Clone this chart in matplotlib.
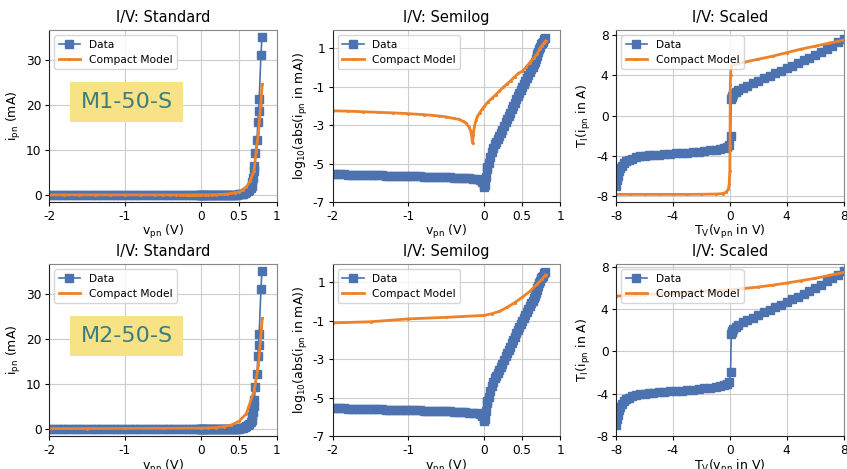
import numpy as np
import matplotlib
matplotlib.use("Agg")
import matplotlib.pyplot as plt

# =============================
# DATA
# =============================
# measured diode: v_pn (V) and log10(|i_pn| in mA)
v_data = [-2.00, -1.95, -1.90, -1.85, -1.80, -1.75, -1.70, -1.65, -1.60, -1.55,
          -1.50, -1.45, -1.40, -1.35, -1.30, -1.25, -1.20, -1.15, -1.10, -1.05,
          -1.00, -0.95, -0.90, -0.85, -0.80, -0.75, -0.70, -0.65, -0.60, -0.55,
          -0.50, -0.45, -0.40, -0.35, -0.30, -0.25, -0.20, -0.15, -0.10, -0.06,
          -0.03, -0.01, 0.00, 0.01, 0.02, 0.03, 0.04, 0.06, 0.08, 0.10,
          0.12, 0.14, 0.16, 0.18, 0.20, 0.22, 0.24, 0.26, 0.28, 0.30,
          0.32, 0.34, 0.36, 0.38, 0.40, 0.42, 0.44, 0.46, 0.48, 0.50,
          0.52, 0.54, 0.56, 0.58, 0.60, 0.62, 0.64, 0.66, 0.67, 0.68,
          0.69, 0.700, 0.708, 0.717, 0.740, 0.753, 0.761, 0.770, 0.793, 0.806]
logi_data = [-5.55, -5.55, -5.56, -5.56, -5.57, -5.57, -5.58, -5.58, -5.59, -5.59,
             -5.60, -5.60, -5.61, -5.61, -5.62, -5.62, -5.63, -5.63, -5.64, -5.64,
             -5.65, -5.65, -5.66, -5.66, -5.67, -5.67, -5.68, -5.68, -5.69, -5.69,
             -5.70, -5.71, -5.72, -5.73, -5.74, -5.75, -5.77, -5.79, -5.82, -5.87,
             -5.95, -6.10, -6.20, -6.10, -5.70, -5.30, -5.15, -4.95, -4.65, -4.40,
             -4.20, -4.00, -3.85, -3.70, -3.55, -3.40, -3.25, -3.05, -2.85, -2.70,
             -2.52, -2.35, -2.18, -2.00, -1.83, -1.65, -1.48, -1.30, -1.15, -1.00,
             -0.84, -0.68, -0.52, -0.37, -0.22, -0.10, 0.05, 0.20, 0.28, 0.45,
             0.58, 0.716, 0.813, 0.968, 1.086, 1.212, 1.270, 1.326, 1.491, 1.544]

# compact model, device M1
v_m1 = [-2.00, -1.80, -1.60, -1.40, -1.20, -1.00, -0.80, -0.60, -0.50, -0.40,
        -0.33, -0.28, -0.24, -0.20, -0.18, -0.165, -0.155, -0.145, -0.13, -0.11,
        -0.09, -0.06, -0.03, 0.00, 0.05, 0.10, 0.15, 0.20, 0.25, 0.30,
        0.35, 0.40, 0.45, 0.50, 0.55, 0.60, 0.65, 0.70, 0.73, 0.76,
        0.79, 0.81]
logi_m1 = [-2.25, -2.27, -2.30, -2.33, -2.36, -2.40, -2.45, -2.52, -2.57, -2.65,
           -2.70, -2.80, -2.89, -3.10, -3.30, -3.60, -3.93, -3.50, -3.06, -2.75,
           -2.54, -2.35, -2.18, -2.02, -1.78, -1.60, -1.42, -1.22, -1.03, -0.85,
           -0.68, -0.48, -0.30, -0.20, 0.02, 0.25, 0.48, 0.72, 0.98, 1.14,
           1.30, 1.39]

# compact model, device M2
v_m2 = [-2.00, -1.50, -1.00, -0.50, 0.00, 0.10, 0.20, 0.30, 0.40, 0.50,
        0.60, 0.70, 0.76, 0.80, 0.81]
logi_m2 = [-1.11, -1.05, -0.90, -0.82, -0.72, -0.63, -0.51, -0.30, -0.06, 0.22,
           0.53, 0.92, 1.15, 1.35, 1.39]

# scaled view: T_V(v_pn), T_I(i_pn)
tv_data = [-8.0, -7.95, -7.9, -7.8, -7.7, -7.6, -7.45, -7.3, -7.1, -6.9,
           -6.6, -6.3, -6.0, -5.7, -5.4, -5.0, -4.6, -4.2, -3.8, -3.4,
           -3.0, -2.6, -2.2, -1.8, -1.4, -1.0, -0.7, -0.4, -0.2, -0.05,
           0.05, 0.1, 0.12, 0.15, 0.25, 0.4, 0.6, 0.9, 1.2, 1.6,
           2.0, 2.4, 2.8, 3.2, 3.6, 4.0, 4.4, 4.8, 5.2, 5.6,
           6.0, 6.4, 6.8, 7.2, 7.6, 8.0]
ti_data = [-7.0, -6.4, -6.0, -5.55, -5.25, -5.0, -4.75, -4.55, -4.4, -4.28,
           -4.15, -4.06, -4.0, -3.95, -3.91, -3.87, -3.84, -3.8, -3.76, -3.72,
           -3.68, -3.63, -3.58, -3.52, -3.45, -3.38, -3.3, -3.2, -3.1, -2.9,
           -2.0, 1.65, 1.85, 1.95, 2.15, 2.35, 2.55, 2.75, 2.95, 3.2,
           3.45, 3.7, 3.95, 4.2, 4.45, 4.7, 4.95, 5.2, 5.5, 5.75,
           6.05, 6.35, 6.65, 6.95, 7.3, 7.65]

tv_m1 = [-8.0, -7.0, -6.0, -5.0, -4.0, -3.0, -2.0, -1.0, -0.5, -0.25,
         -0.1, -0.05, 0.0, 0.01, 0.02, 0.03, 0.05, 0.08, 0.15, 1.0,
         2.0, 3.0, 4.0, 5.0, 6.0, 7.0, 8.0]
ti_m1 = [-7.83, -7.83, -7.83, -7.83, -7.83, -7.83, -7.82, -7.8, -7.75, -7.6,
         -7.3, -6.8, -5.5, -3.0, 0.0, 3.0, 4.0, 4.7, 5.0, 5.3,
         5.6, 5.9, 6.25, 6.6, 6.9, 7.2, 7.5]

tv_m2 = [-8.0, -7.0, -6.0, -5.0, -4.0, -3.0, -2.0, -1.0, 0.0, 1.0,
         2.0, 3.0, 4.0, 5.0, 6.0, 7.0, 8.0]
ti_m2 = [5.25, 5.32, 5.4, 5.47, 5.55, 5.62, 5.7, 5.78, 5.87, 5.98,
         6.12, 6.3, 6.5, 6.72, 6.95, 7.22, 7.5]

devices = ["M1-50-S", "M2-50-S"]

# =============================
# STYLE
# =============================
BLUE = "#4c72b0"
ORANGE = "#ee8228"
plt.rcParams["mathtext.default"] = "regular"
plt.rcParams["font.size"] = 9


def style_axes(ax):
    ax.grid(True, color="#cccccc", linewidth=0.8)
    ax.set_axisbelow(True)
    for side in ["top", "right"]:
        ax.spines[side].set_color("#888888")
    for side in ["left", "bottom"]:
        ax.spines[side].set_color("#222222")
    ax.tick_params(labelsize=8.7, length=3, pad=2.5)
    ax.xaxis.labelpad = 0.5
    ax.yaxis.labelpad = 2


def plot_pair(ax, x1, y1, x2, y2):
    ax.plot(x1, y1, color=BLUE, marker="s", markersize=6, linewidth=1.2,
            label="Data")
    ax.plot(x2, y2, color=ORANGE, marker=".", markersize=2.5, linewidth=2,
            label="Compact Model")
    ax.legend(loc="upper left", fontsize=7.7)


# =============================
# FIGURE
# =============================
fig, axes = plt.subplots(2, 3, figsize=(8.47, 4.69), dpi=100)
fig.subplots_adjust(left=0.058, right=0.996, bottom=0.07, top=0.936,
                    wspace=0.246, hspace=0.36)

models = [(v_m1, logi_m1, tv_m1, ti_m1), (v_m2, logi_m2, tv_m2, ti_m2)]

for row, (vm, lm, tvm, tim) in enumerate(models):
    # standard
    ax = axes[row, 0]
    plot_pair(ax, v_data, 10 ** np.array(logi_data), vm, 10 ** np.array(lm))
    ax.set_xlim(-2, 1)
    ax.set_ylim(-1.6, 36.6)
    ax.set_xticks([-2, -1, 0, 0.5, 1])
    ax.set_xticklabels(["-2", "-1", "0", "0.5", "1"])
    ax.set_yticks([0, 10, 20, 30])
    ax.set_title("I/V: Standard", fontsize=10.5)
    ax.set_xlabel("v$_{pn}$ (V)")
    ax.set_ylabel("i$_{pn}$ (mA)")
    ax.text(0.34, 0.58, devices[row], transform=ax.transAxes, fontsize=16,
            color="#3d7d7d", ha="center", va="center",
            bbox=dict(boxstyle="square,pad=0.45", facecolor="#f8e286",
                      edgecolor="none"))
    style_axes(ax)

    # semilog
    ax = axes[row, 1]
    plot_pair(ax, v_data, logi_data, vm, lm)
    ax.set_xlim(-2, 1)
    ax.set_ylim(-7, 1.95)
    ax.set_xticks([-2, -1, 0, 0.5, 1])
    ax.set_xticklabels(["-2", "-1", "0", "0.5", "1"])
    ax.set_yticks([1, -1, -3, -5, -7])
    ax.set_yticklabels(["1", "-1", "-3", "-5", "-7"])
    ax.set_title("I/V: Semilog", fontsize=10.5)
    ax.set_xlabel("v$_{pn}$ (V)")
    ax.set_ylabel("log$_{10}$(abs(i$_{pn}$ in mA))")
    style_axes(ax)

    # scaled
    ax = axes[row, 2]
    plot_pair(ax, tv_data, ti_data, tvm, tim)
    ax.set_xlim(-8, 8)
    ax.set_ylim((-8.6, 8.5) if row == 0 else (-8.05, 8.3))
    ax.set_xticks([-8, -4, 0, 4, 8])
    ax.set_xticklabels(["-8", "-4", "0", "4", "8"])
    ax.set_yticks([-8, -4, 0, 4, 8])
    ax.set_yticklabels(["-8", "-4", "0", "4", "8"])
    ax.set_title("I/V: Scaled", fontsize=10.5)
    ax.set_xlabel("T$_V$(v$_{pn}$ in V)")
    ax.set_ylabel("T$_I$(i$_{pn}$ in A)")
    style_axes(ax)

fig.savefig("out.png", dpi=100)
